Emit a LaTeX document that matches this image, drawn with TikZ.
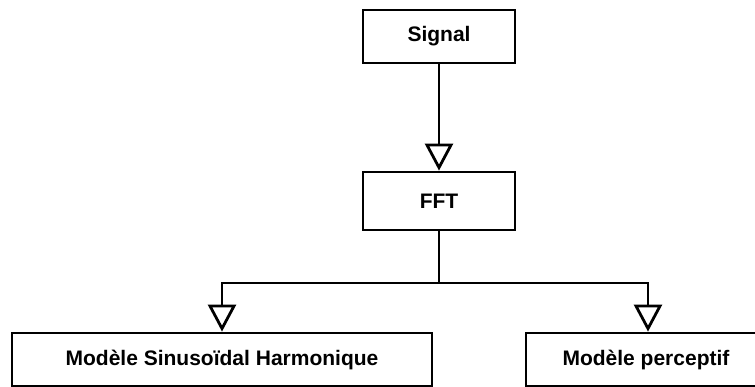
\documentclass[tikz,border=0pt]{standalone}
\usepackage{fontspec}
\setmainfont{Liberation Sans}
\usetikzlibrary{arrows.meta}
\begin{document}
\begin{tikzpicture}[x=1pt,y=-1pt,
  blk/.style={draw=black, line width=2.8pt, fill=white, rectangle, inner sep=0pt,
    font=\fontsize{21}{25}\selectfont\bfseries},
  conn/.style={line width=2.8pt},
  arr/.style={conn, -{Triangle[open, width=28pt, length=27pt, fill=white]}}]
\useasboundingbox (0,0) rectangle (755,387);
\clip (0,0) rectangle (755,387);
\node[blk, minimum width=152pt, minimum height=53pt] (sig) at (439,36.5) {Signal};
\node[blk, minimum width=152pt, minimum height=58pt] (fft) at (439,201) {FFT};
\node[blk, minimum width=420pt, minimum height=53pt] (msh) at (222,359.5) {Modèle Sinusoïdal Harmonique};
\node[blk, minimum width=244pt, minimum height=53pt] (mp) at (648,359.5) {\hspace*{-4pt}Modèle perceptif};
\coordinate (j) at (439,283);
\draw[arr] (sig) -- (fft);
\draw[conn] (fft) -- (j);
\draw[arr] (j) -| (msh);
\draw[arr] (j) -| (mp);
\end{tikzpicture}
\end{document}
